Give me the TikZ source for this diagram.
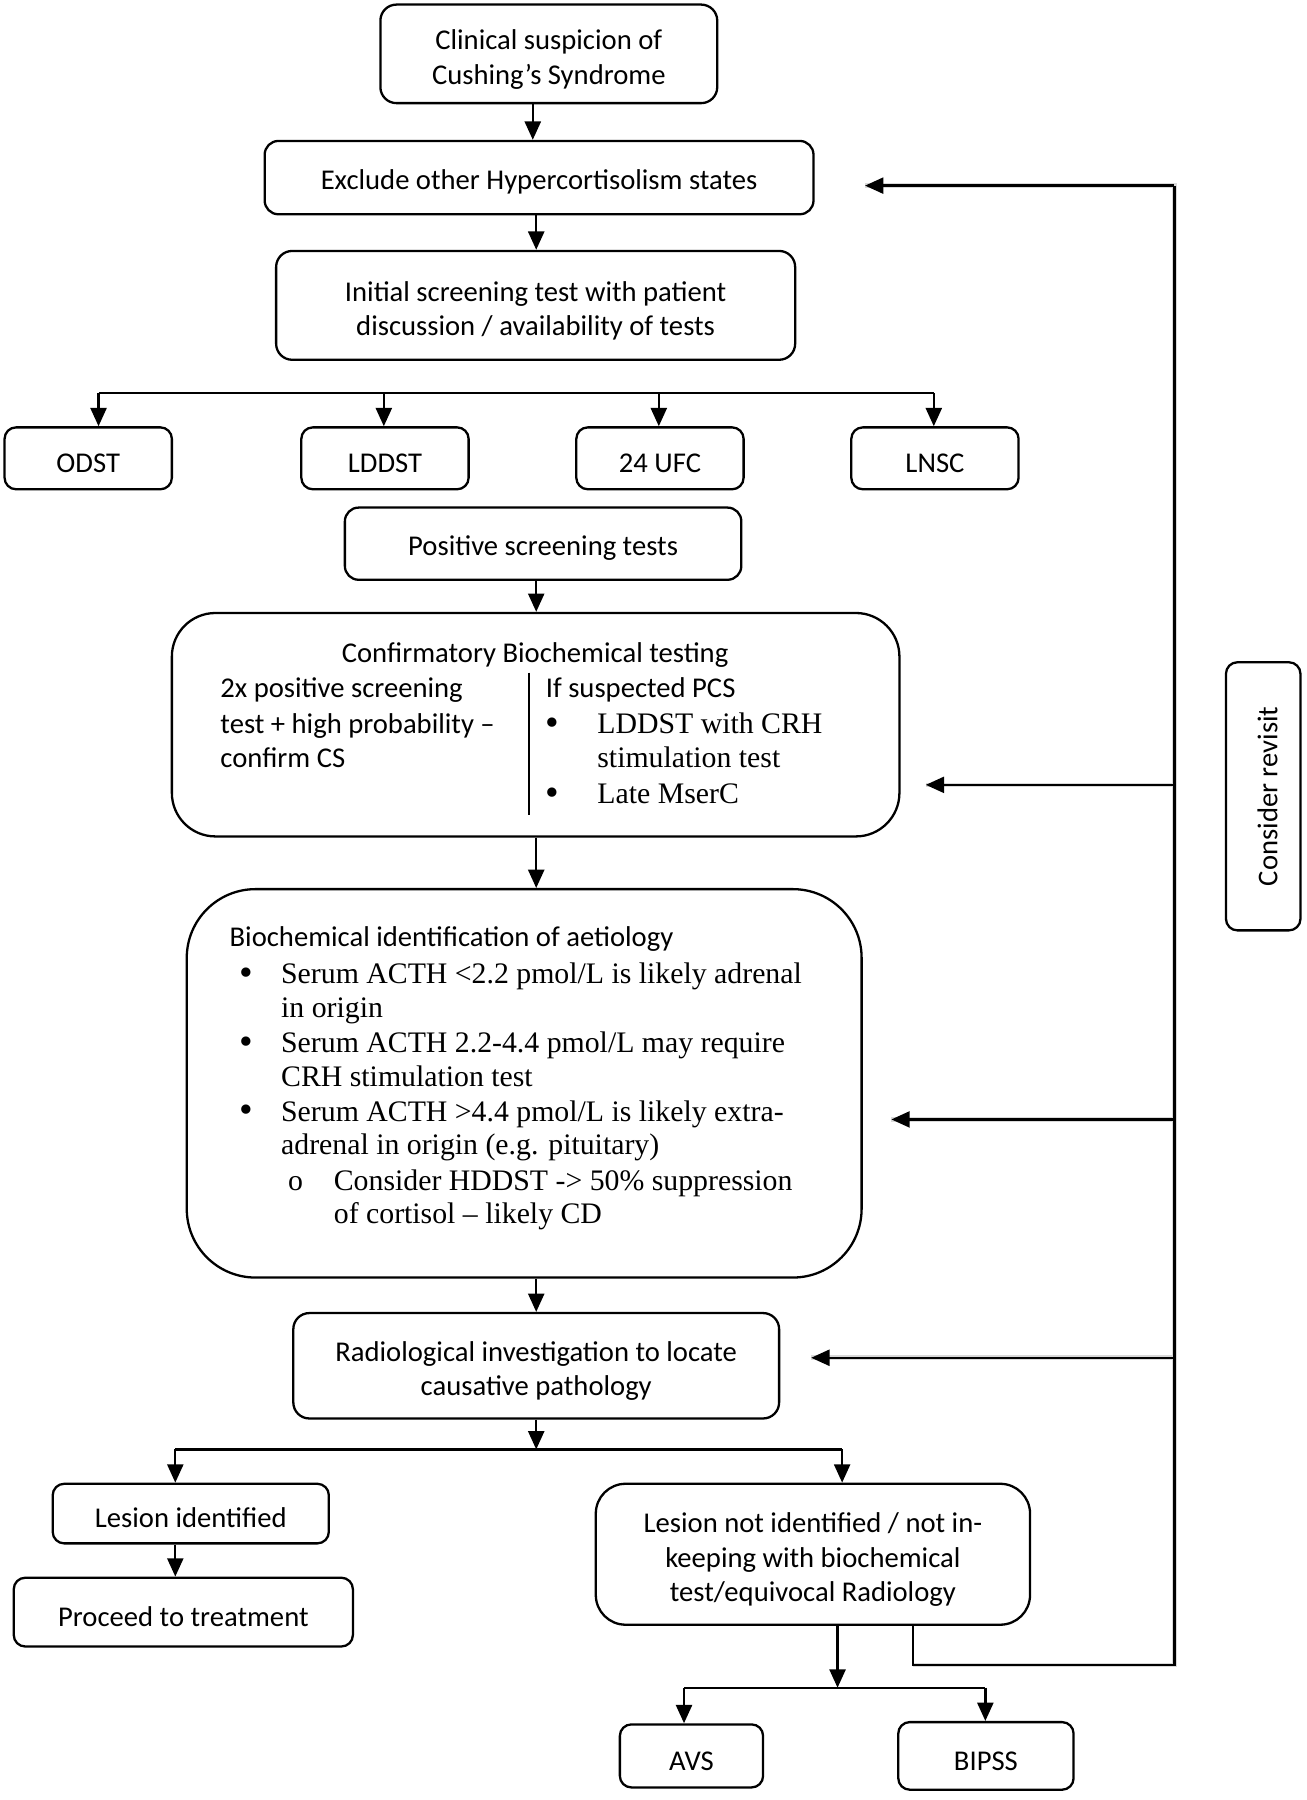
\documentclass[tikz,border=0pt]{standalone}
\usepackage{fontspec}
\setmainfont{Carlito}
\newfontfamily\serifcam{Liberation Serif}
\usetikzlibrary{arrows.meta}
\newcommand{\sx}{\rule{0pt}{13.5pt}}
\begin{document}
\begin{tikzpicture}[x=0.5pt,y=-0.5pt,
  box/.style={draw=black, line width=1pt, rounded corners=6pt, inner sep=0pt, align=center, font=\fontsize{12.5}{15}\selectfont, execute at begin node={\rule{0pt}{12.5pt}}},
  plainbox/.style={box, execute at begin node={}},
  arr/.style={line width=1pt, -{Triangle[length=8pt,width=7pt]}},
  ln/.style={line width=1pt},
  shad/.style={line width=2pt, draw=black!15},
  txt/.style={inner sep=0pt, font=\fontsize{12.5}{15}\selectfont},
  stxt/.style={inner sep=0pt, font=\serifcam\fontsize{13}{15}\selectfont},
  bul/.style={inner sep=0pt, font=\serifcam\fontsize{17}{15}\selectfont}]
\useasboundingbox (0,0) rectangle (1140,1571);

% boxes
\node[plainbox, minimum width=147pt, minimum height=43pt, rounded corners=7pt] (n1) at (479,47) {\sx Clinical suspicion of\\Cushing’s Syndrome};
\node[plainbox, minimum width=239.5pt, minimum height=32pt] (n2) at (470.5,155) {Exclude other Hypercortisolism states};
\node[plainbox, minimum width=226.5pt, minimum height=47.5pt, rounded corners=7pt] (n3) at (467.5,266.5) {\sx Initial screening test with patient\\discussion / availability of tests};
\node[box, minimum width=73pt, minimum height=27pt, rounded corners=5pt] (odst) at (77,400) {ODST};
\node[box, minimum width=73pt, minimum height=27pt, rounded corners=5pt] (lddst) at (336,400) {LDDST};
\node[box, minimum width=73pt, minimum height=27pt, rounded corners=5pt] (ufc) at (576,400) {24 UFC};
\node[box, minimum width=73pt, minimum height=27pt, rounded corners=5pt] (lnsc) at (816,400) {LNSC};
\node[plainbox, minimum width=173pt, minimum height=31.5pt] (n5) at (474,474.5) {Positive screening tests};
\node[plainbox, minimum width=317.5pt, minimum height=97.5pt, rounded corners=19pt] (n6) at (467.5,632.5) {};
\node[plainbox, minimum width=294.5pt, minimum height=169.5pt, rounded corners=30pt] (n7) at (457.5,945.5) {};
\node[plainbox, minimum width=212pt, minimum height=46pt, rounded corners=7pt] (n8) at (468,1192) {\sx Radiological investigation to locate\\causative pathology};
\node[box, minimum width=120.5pt, minimum height=26pt, rounded corners=5pt] (n9) at (166.5,1321) {Lesion identified};
\node[box, minimum width=148pt, minimum height=30pt, rounded corners=5pt] (n10) at (160,1407) {Proceed to treatment};
\node[plainbox, minimum width=189.5pt, minimum height=61.5pt, rounded corners=13pt] (n11) at (709.5,1356.5) {\sx Lesion not identified / not in-\\keeping with biochemical\\test/equivocal Radiology};
\node[box, minimum width=62.5pt, minimum height=27.5pt, rounded corners=5pt] (avs) at (603.5,1532.5) {AVS};
\node[box, minimum width=76.5pt, minimum height=29.5pt, rounded corners=5pt] (bipss) at (860.5,1532.5) {BIPSS};
\node[plainbox, rotate=90, minimum width=117pt, minimum height=32.5pt, rounded corners=5pt] (rev) at (1102.5,695) {Consider revisit};

% confirmatory box text
\node[txt, anchor=base] (c0) at (467,578) {Confirmatory Biochemical testing};
\node[txt, anchor=base west] (c1) at (192,609) {2x positive screening};
\node[txt, anchor=base west] (c2) at (192,640) {test + high probability –};
\node[txt, anchor=base west] (c3) at (192,670) {confirm CS};
\draw[line width=0.8pt] (462,587) -- (462,711);
\node[txt, anchor=base west] (c4) at (476,609) {If suspected PCS};
\node[bul, anchor=base] (cb1) at (482,642) {•};
\node[bul, anchor=base] (cb2) at (482,703) {•};
\node[stxt, anchor=base west] (c5) at (521,640) {LDDST with CRH};
\node[stxt, anchor=base west] (c6) at (521,670) {stimulation test};
\node[stxt, anchor=base west] (c7) at (521,701) {Late MserC};

% biochemical box text
\node[txt, anchor=base west] (b0) at (200,826) {Biochemical identification of aetiology};
\node[bul, anchor=base] (bb1) at (215,860) {•};
\node[bul, anchor=base] (bb2) at (215,920) {•};
\node[bul, anchor=base] (bb3) at (215,980) {•};
\node[stxt, anchor=base west] (b1) at (245,858) {Serum ACTH <2.2 pmol/L is likely adrenal};
\node[stxt, anchor=base west] (b2) at (245,888) {in origin};
\node[stxt, anchor=base west] (b3) at (245,919) {Serum ACTH 2.2-4.4 pmol/L may require};
\node[stxt, anchor=base west] (b4) at (245,948) {CRH stimulation test};
\node[stxt, anchor=base west] (b5) at (245,979) {Serum ACTH >4.4 pmol/L is likely extra-};
\node[stxt, anchor=base west] (b6) at (245,1008) {adrenal in origin (e.g. pituitary)};
\node[stxt, anchor=base] (bo) at (258,1039) {o};
\node[stxt, anchor=base west] (b7) at (291,1039) {Consider HDDST -> 50\% suppression};
\node[stxt, anchor=base west] (b8) at (291,1068) {of cortisol – likely CD};

% main flow connectors
\coordinate (a1) at (465,0);
\coordinate (a2) at (468,0);
\draw[arr] (a1 |- n1.south) -- (a1 |- n2.north);
\draw[arr] (a2 |- n2.south) -- (a2 |- n3.north);
\coordinate (bA) at (86,343);
\coordinate (bB) at (335,343);
\coordinate (bC) at (575,343);
\coordinate (bD) at (815,343);
\draw[ln] (bA) -- (bD);
\draw[arr] (bA) -- (bA |- odst.north);
\draw[arr] (bB) -- (bB |- lddst.north);
\draw[arr] (bC) -- (bC |- ufc.north);
\draw[arr] (bD) -- (bD |- lnsc.north);
\draw[arr] (a2 |- n5.south) -- (a2 |- n6.north);
\draw[arr] (a2 |- n6.south) -- (a2 |- n7.north);
\draw[arr] (a2 |- n7.south) -- (a2 |- n8.north);

\coordinate (r1) at (468,1265);
\coordinate (rL) at (153,1265);
\coordinate (rR) at (735,1265);
\draw[arr] (r1 |- n8.south) -- (r1);
\draw[ln] (rL) -- (rR);
\draw[arr] (rL) -- (rL |- n9.north);
\draw[arr] (rR) -- (rR |- n11.north);
\draw[arr] (rL |- n9.south) -- (rL |- n10.north);

\coordinate (s1) at (731,1473);
\coordinate (sL) at (597,1473);
\coordinate (sR) at (860,1473);
\draw[arr] (s1 |- n11.south) -- (s1);
\draw[ln] (sL) -- (sR);
\draw[arr] (sL) -- (sL |- avs.north);
\draw[arr] (sR) -- (sR |- bipss.north);

% feedback loop
\coordinate (f0) at (797,1453);
\coordinate (f1) at (1025,1453);
\coordinate (g1) at (1025,162);
\coordinate (g2) at (1025,685);
\coordinate (g3) at (1025,977);
\coordinate (g4) at (1025,1185);
\coordinate (e1) at (755,162);
\coordinate (e2) at (808,685);
\coordinate (e3) at (778,977);
\coordinate (e4) at (708,1185);
\begin{scope}[shift={(3,4)}]
\draw[shad] (f0) -- (f1) -- (g1) -- (e1);
\draw[shad] (g2) -- (e2);
\draw[shad] (g3) -- (e3);
\draw[shad] (g4) -- (e4);
\end{scope}
\draw[ln] (f0 |- n11.south) -- (f0) -- (f1) -- (g1);
\draw[arr] (g1) -- (e1);
\draw[arr] (g2) -- (e2);
\draw[arr] (g3) -- (e3);
\draw[arr] (g4) -- (e4);
\end{tikzpicture}
\end{document}
